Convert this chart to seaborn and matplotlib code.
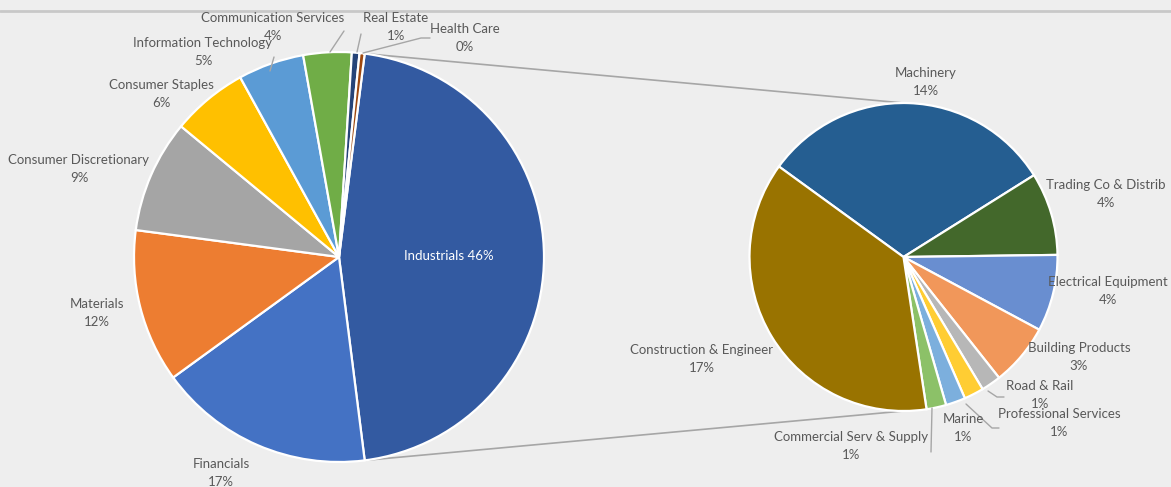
import numpy as np
import seaborn as sns
import matplotlib
matplotlib.use('Agg')
import matplotlib.pyplot as plt

# main pie (share of total, %)
sectors = ['Industrials', 'Financials', 'Materials', 'Consumer Discretionary',
           'Consumer Staples', 'Information Technology', 'Communication Services',
           'Real Estate', 'Health Care']
sector_pct = [46.0, 17.0, 12.1, 8.9, 6.0, 5.2, 3.8, 0.6, 0.4]
sector_colors = ['#335AA1', '#4472C4', '#ED7D31', '#A5A5A5', '#FFC000',
                 '#5B9BD5', '#70AD47', '#264478', '#9E480E']

# breakdown of Industrials (share of total, %)
industries = ['Machinery', 'Trading Co & Distrib', 'Electrical Equipment',
              'Building Products', 'Road & Rail', 'Professional Services',
              'Marine', 'Commercial Serv & Supply', 'Construction & Engineer']
industry_pct = [14.3, 4.0, 3.7, 3.0, 0.95, 0.95, 0.95, 0.95, 17.2]
industry_colors = ['#255E91', '#43682B', '#698ED0', '#F1975A', '#B7B7B7',
                   '#FFCD33', '#7CAFDD', '#8CC168', '#997300']

W, H = 1171, 487
bg = '#EEEEEE'
txt = '#595959'

sns.set_theme(style='white')
plt.rcParams['font.family'] = ['Lato', 'DejaVu Sans']

fig = plt.figure(figsize=(W / 100, H / 100), dpi=100, facecolor=bg)
ax = fig.add_axes([0, 0, 1, 1])
ax.set_facecolor(bg)

c1, r1 = (339, H - 257), 205
c2, r2 = (903.5, H - 257), 154
start1 = sector_pct[0] / 100 * 180

wp = dict(edgecolor='white', linewidth=1.6)
ax.pie(sector_pct, colors=sector_colors, startangle=start1, counterclock=False,
       center=c1, radius=r1, wedgeprops=wp, frame=True)
ax.pie(industry_pct, colors=industry_colors, startangle=144, counterclock=False,
       center=c2, radius=r2, wedgeprops=wp, frame=True)
ax.set_xlim(0, W)
ax.set_ylim(0, H)
ax.set_aspect('equal')
ax.axis('off')

# connector lines from the split slice to the second pie
for sgn in (1, -1):
    a = np.deg2rad(sgn * start1)
    p = (c1[0] + r1 * np.cos(a), c1[1] + r1 * np.sin(a))
    q = (c2[0], c2[1] + sgn * r2)
    ax.plot([p[0], q[0]], [p[1], q[1]], color='#A6A6A6', lw=1.2, zorder=0)

# top rule
ax.plot([0, W], [H - 11, H - 11], color='#C8C8C8', lw=2)

fs = 9.5
# label positions (pixels from top-left)
pos1 = {'Industrials': (449, 256), 'Financials': (221, 473), 'Materials': (97, 313),
        'Consumer Discretionary': (79, 169), 'Consumer Staples': (161, 94),
        'Information Technology': (203, 52), 'Communication Services': (273, 27),
        'Real Estate': (396, 27), 'Health Care': (465, 38)}
pos2 = {'Machinery': (926, 82), 'Trading Co & Distrib': (1106, 194),
        'Electrical Equipment': (1108, 291), 'Building Products': (1079, 357),
        'Road & Rail': (1040, 395), 'Professional Services': (1059, 423),
        'Marine': (963, 428), 'Commercial Serv & Supply': (851, 446),
        'Construction & Engineer': (702, 359)}

for name, v in zip(sectors, sector_pct):
    x, y = pos1[name]
    if name == 'Industrials':
        ax.text(x, H - y, f'{name} {v:.0f}%', color='white', fontsize=fs,
                ha='center', va='center')
    else:
        ax.text(x, H - y, f'{name}\n{v:.0f}%', color=txt, fontsize=fs,
                ha='center', va='center', linespacing=1.55)
for name, v in zip(industries, industry_pct):
    x, y = pos2[name]
    ax.text(x, H - y, f'{name}\n{v:.0f}%', color=txt, fontsize=fs,
            ha='center', va='center', linespacing=1.55)

# leader lines
leaders = [[(344, 31), (330, 52)],
           [(361, 34), (357, 52)],
           [(430, 38), (421, 38), (363, 53)],
           [(274, 57), (270, 71)],
           [(1004, 397), (997, 397), (988, 391)],
           [(999, 428), (992, 428), (966, 404)],
           [(931, 452), (932, 408)]]
for pts in leaders:
    xs = [p[0] for p in pts]
    ys = [H - p[1] for p in pts]
    ax.plot(xs, ys, color='#A6A6A6', lw=1)

fig.savefig('out.png', dpi=100, facecolor=bg)
